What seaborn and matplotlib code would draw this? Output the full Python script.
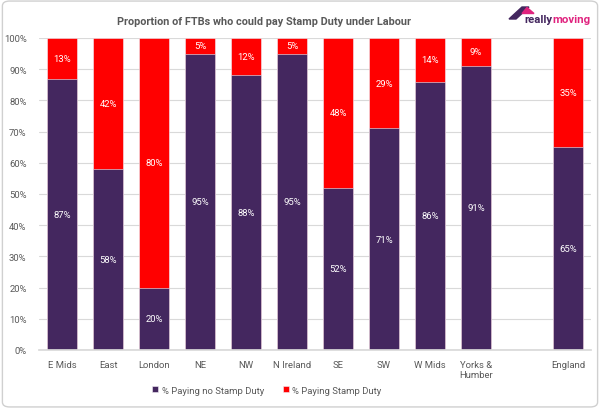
import matplotlib
matplotlib.use("Agg")
import matplotlib.pyplot as plt
import seaborn as sns
import pandas as pd
from matplotlib.patches import FancyBboxPatch, Polygon

regions = ["E Mids", "East", "London", "NE", "NW", "N Ireland", "SE", "SW",
           "W Mids", "Yorks &\nHumber", " ", "England"]
no_duty = [87, 58, 20, 95, 88, 95, 52, 71, 86, 91, None, 65]
duty = [13, 42, 80, 5, 12, 5, 48, 29, 14, 9, None, 35]

PURPLE = "#44275F"
RED = "#FF0000"
PINK = "#E0237E"
GREY = "#595959"

sns.set_theme(style="white")
plt.rcParams["font.family"] = ["Roboto", "DejaVu Sans"]

df = pd.DataFrame({"region": regions, "no": no_duty, "yes": duty})
df_valid = df.dropna().copy()
df_valid["total"] = df_valid["no"] + df_valid["yes"]

fig = plt.figure(figsize=(6, 4.1), dpi=100)
ax = fig.add_axes([0.065, 0.144, 0.92, 0.761])

sns.barplot(data=df_valid, x="region", y="total", order=regions, color=RED,
            width=0.65, saturation=1, ax=ax, label="% Paying Stamp Duty",
            edgecolor="#F2EEF6", linewidth=0.4)
sns.barplot(data=df_valid, x="region", y="no", order=regions, color=PURPLE,
            width=0.65, saturation=1, ax=ax, label="% Paying no Stamp Duty",
            edgecolor="#F2EEF6", linewidth=0.4)

for i, r in enumerate(regions):
    n, y = no_duty[i], duty[i]
    if n is None:
        continue
    ax.text(i, n / 2, f"{n}%", ha="center", va="center", color="white", fontsize=6.8)
    ax.text(i, n + y / 2, f"{y}%", ha="center", va="center", color="white", fontsize=6.8)

ax.set_ylim(0, 100)
ax.set_xlim(-0.5, len(regions) - 0.5)
ax.set_yticks(range(0, 101, 10))
ax.set_yticklabels([f"{v}%" for v in range(0, 101, 10)], color=GREY, fontsize=6.8)
ax.tick_params(axis="x", colors=GREY, labelsize=6.8, length=0, pad=7)
ax.tick_params(axis="y", length=0, pad=9)
ax.set_xlabel("")
ax.set_ylabel("")
ax.yaxis.grid(True, color="#D9D9D9", linewidth=0.8)
ax.set_axisbelow(True)
for s in ["top", "right", "left"]:
    ax.spines[s].set_visible(False)
ax.spines["bottom"].set_color("#D9D9D9")

handles, labels = ax.get_legend_handles_labels()
order_h = {l: h for h, l in zip(handles, labels)}
leg_labels = ["% Paying no Stamp Duty", "% Paying Stamp Duty"]
leg = fig.legend([order_h[l] for l in leg_labels], leg_labels, loc="center",
                 bbox_to_anchor=(0.445, 0.046), ncol=2, frameon=False, fontsize=6.8,
                 handlelength=0.6, handleheight=0.6, handletextpad=0.4, columnspacing=2.0)
for t in leg.get_texts():
    t.set_color(GREY)
if ax.get_legend() is not None:
    ax.get_legend().remove()

fig.text(0.44, 0.946, "Proportion of FTBs who could pay Stamp Duty under Labour",
         ha="center", va="center", fontsize=7.8, fontweight="bold", color=GREY)

# logo
fig.patches.append(Polygon([[509 / 600, 1 - 20 / 410], [522 / 600, 1 - 8 / 410],
                            [529 / 600, 1 - 8 / 410], [516 / 600, 1 - 20 / 410]],
                           closed=True, transform=fig.transFigure, color=PURPLE))
fig.patches.append(Polygon([[527 / 600, 1 - 8.5 / 410], [534 / 600, 1 - 14.5 / 410],
                            [522 / 600, 1 - 14.5 / 410]],
                           closed=True, transform=fig.transFigure, color=PINK))
t1 = fig.text(524 / 600, 1 - 20 / 410, "really", ha="left", va="center", fontsize=8.2,
              fontweight="bold", color=PURPLE)
fig.canvas.draw()
bb = t1.get_window_extent(fig.canvas.get_renderer())
x_end = bb.x1 / fig.bbox.width
fig.text(x_end + 0.001, 1 - 20 / 410, "moving", ha="left", va="center", fontsize=8.2,
         fontweight="bold", color=PINK)

border = FancyBboxPatch((0.004, 0.005), 0.992, 0.99, boxstyle="round,pad=0,rounding_size=0.012",
                        transform=fig.transFigure, facecolor="none", edgecolor="#D0D0D0",
                        linewidth=1)
fig.patches.append(border)

fig.savefig("out.png", dpi=100)
